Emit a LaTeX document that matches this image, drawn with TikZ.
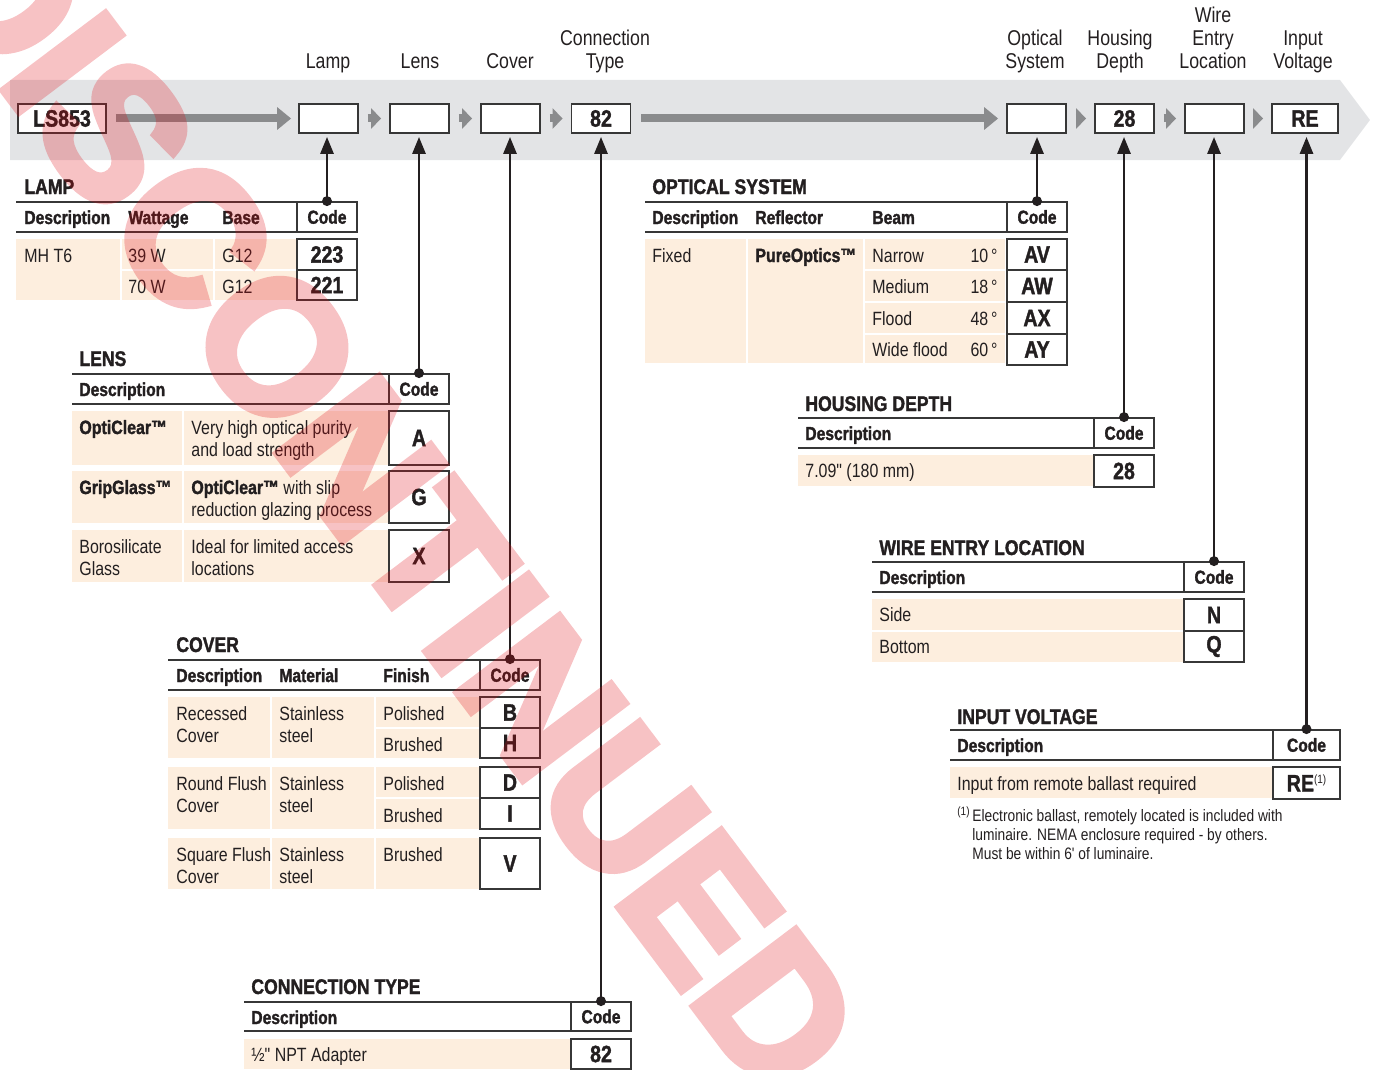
\documentclass[tikz,border=0pt]{standalone}
\usepackage{fontspec}
\setmainfont[FakeStretch=0.83, Ligatures=TeXOff, BoldFeatures={FakeBold=1.5}]{Liberation Sans}
\newfontfamily\stampfont[BoldFeatures={FakeBold=4}]{Liberation Sans}
\usetikzlibrary{arrows.meta}

\definecolor{bandgray}{RGB}{227,228,230}
\definecolor{arrowgray}{RGB}{138,139,141}
\definecolor{cellfill}{RGB}{253,238,222}
\definecolor{rulegray}{RGB}{55,55,55}
\definecolor{inkblack}{RGB}{35,31,32}
\definecolor{stampred}{RGB}{225,10,20}

\begin{document}
\begin{tikzpicture}[x=0.5pt,y=-0.5pt,
    toplbl/.style={font=\fontsize{10.7}{11.5}\selectfont, align=center, anchor=base, inner sep=0pt, text=inkblack},
    slot/.style={draw=rulegray, line width=0.9pt, fill=white, minimum width=29.5pt, minimum height=14.5pt, inner sep=0pt, font=\bfseries\fontsize{11.8}{12}\selectfont, text=inkblack},
    ttl/.style={font=\bfseries\fontsize{10.6}{12}\selectfont, anchor=base west, inner sep=0pt, text=inkblack},
    hdr/.style={font=\bfseries\fontsize{9.4}{11}\selectfont, anchor=base west, inner sep=0pt, text=inkblack},
    txt/.style={font=\fontsize{9.6}{11}\selectfont, anchor=base west, inner sep=0pt, align=left, text=inkblack},
    codehdr/.style={draw=rulegray, line width=0.9pt, fill=white, minimum width=30pt, minimum height=15pt, inner sep=0pt, font=\bfseries\fontsize{9.4}{11}\selectfont, text=inkblack},
    codebox/.style={draw=rulegray, line width=0.9pt, fill=white, minimum width=30pt, inner sep=0pt, font=\bfseries\fontsize{11.8}{12}\selectfont, text=inkblack},
    rule/.style={draw=rulegray, line width=1pt},
    cell/.style={fill=cellfill},
    feed/.style={draw=arrowgray, line width=4pt, -{Triangle[width=11pt,length=7pt]}},
    hop/.style={draw=arrowgray, line width=4pt, -{Triangle[width=10pt,length=5pt]}, shorten <=4.5pt, shorten >=4pt},
    link/.style={draw=inkblack, line width=1.4pt, -{Triangle[width=6.5pt,length=8.5pt]}, shorten >=1.5pt},
  ]
  \useasboundingbox (0,0) rectangle (1375,1070);

  % Ordering band
  \fill[bandgray] (10,80) -- (1340,80) -- (1370,120) -- (1340,160) -- (10,160) -- cycle;

  % Catalog number slots
  \node[slot, minimum width=44pt] (ls) at (62,118.5) {LS853};
  \node[slot] (lampslot) at (328.5,118.5) {};
  \node[slot] (lensslot) at (419.5,118.5) {};
  \node[slot] (coverslot) at (510.5,118.5) {};
  \node[slot] (connslot) at (601,118.5) {82};
  \node[slot] (optslot) at (1036.5,118.5) {};
  \node[slot] (houseslot) at (1124.5,118.5) {28};
  \node[slot] (wireslot) at (1214.5,118.5) {};
  \node[slot, minimum width=33pt] (voltslot) at (1305,118.5) {RE};

  \draw[feed, shorten <=4.5pt, shorten >=3.5pt] (ls.east) -- (lampslot.west);
  \draw[feed, shorten <=5pt, shorten >=4pt] (connslot.east) -- (optslot.west);
  \draw[hop] (lampslot.east) -- (lensslot.west);
  \draw[hop] (lensslot.east) -- (coverslot.west);
  \draw[hop] (coverslot.east) -- (connslot.west);
  \draw[hop] (optslot.east) -- (houseslot.west);
  \draw[hop] (houseslot.east) -- (wireslot.west);
  \draw[hop] (wireslot.east) -- (voltslot.west);

  % Slot labels (base = last line)
  \node[toplbl] (lamplbl) at (328,69) {Lamp};
  \node[toplbl] (lenslbl) at (420,69) {Lens};
  \node[toplbl] (coverlbl) at (510,69) {Cover};
  \node[toplbl] (connlbl) at (605,69) {Connection\\Type};
  \node[toplbl] (optlbl) at (1035,69) {Optical\\System};
  \node[toplbl] (houselbl) at (1120,69) {Housing\\Depth};
  \node[toplbl] (wirelbl) at (1213,69) {Wire\\Entry\\Location};
  \node[toplbl] (voltlbl) at (1303,69) {Input\\Voltage};

  % LAMP
  \node[ttl] (lampttl) at (24,194) {LAMP};
  \draw[rule] (16,202) -- (357,202);
  \draw[rule] (16,232) -- (357,232);
  \node[hdr] (lampdesc) at (24,224) {Description};
  \node[hdr] (lampwatt) at (128,224) {Wattage};
  \node[hdr] (lampbase) at (222,224) {Base};
  \node[codehdr] (lampcode) at (327,217) {Code};
  \fill[cell] (16,239) rectangle (120,300);
  \fill[cell] (122,239) rectangle (213,269);
  \fill[cell] (215,239) rectangle (296,269);
  \fill[cell] (122,271) rectangle (213,300);
  \fill[cell] (215,271) rectangle (296,300);
  \node[txt] (mht6) at (24,262) {MH T6};
  \node[txt] (w39) at (128,262) {39 W};
  \node[txt] (g12a) at (222,262) {G12};
  \node[txt] (w70) at (128,293) {70 W};
  \node[txt] (g12b) at (222,293) {G12};
  \node[codebox, minimum height=15.5pt] (c223) at (327,254.5) {223};
  \node[codebox, minimum height=15pt] (c221) at (327,285) {221};

  % LENS
  \node[ttl] (lensttl) at (79,366) {LENS};
  \draw[rule] (72,374) -- (449,374);
  \draw[rule] (72,404) -- (449,404);
  \node[hdr] (lensdesc) at (79,396) {Description};
  \node[codehdr] (lenscode) at (419,389) {Code};
  \fill[cell] (72,411) rectangle (182,465);
  \fill[cell] (184,411) rectangle (388,465);
  \fill[cell] (72,471) rectangle (182,523);
  \fill[cell] (184,471) rectangle (388,523);
  \fill[cell] (72,530) rectangle (182,582);
  \fill[cell] (184,530) rectangle (388,582);
  \node[txt, font=\bfseries\fontsize{9.6}{11}\selectfont] (opticlear) at (79,434) {OptiClear™};
  \node[txt] (opticleartxt) at (191,456) {Very high optical purity\\and load strength};
  \node[txt, font=\bfseries\fontsize{9.6}{11}\selectfont] (gripglass) at (79,494) {GripGlass™};
  \node[txt] (gripglasstxt) at (191,516) {\textbf{OptiClear™} with slip\\reduction glazing process};
  \node[txt] (boro) at (79,575) {Borosilicate\\Glass};
  \node[txt] (borotxt) at (191,575) {Ideal for limited access\\locations};
  \node[codebox, minimum height=27pt] (ca) at (419,438) {A};
  \node[codebox, minimum height=26pt] (cg) at (419,497) {G};
  \node[codebox, minimum height=26pt] (cx) at (419,556) {X};

  % COVER
  \node[ttl] (coverttl) at (176,652) {COVER};
  \draw[rule] (168,660) -- (540,660);
  \draw[rule] (168,690) -- (540,690);
  \node[hdr] (coverdesc) at (176,682) {Description};
  \node[hdr] (covermat) at (279,682) {Material};
  \node[hdr] (coverfin) at (383,682) {Finish};
  \node[codehdr] (covercode) at (510,675) {Code};
  \fill[cell] (168,697) rectangle (270,758);
  \fill[cell] (272,697) rectangle (374,758);
  \fill[cell] (376,697) rectangle (479,727);
  \fill[cell] (376,729) rectangle (479,758);
  \fill[cell] (168,767) rectangle (270,829);
  \fill[cell] (272,767) rectangle (374,829);
  \fill[cell] (376,767) rectangle (479,797);
  \fill[cell] (376,799) rectangle (479,829);
  \fill[cell] (168,838) rectangle (270,889);
  \fill[cell] (272,838) rectangle (374,889);
  \fill[cell] (376,838) rectangle (479,889);
  \node[txt] (recessed) at (176,742) {Recessed\\Cover};
  \node[txt] (steela) at (279,742) {Stainless\\steel};
  \node[txt] (polisha) at (383,720) {Polished};
  \node[txt] (brusha) at (383,751) {Brushed};
  \node[txt] (roundflush) at (176,812) {Round Flush\\Cover};
  \node[txt] (steelb) at (279,812) {Stainless\\steel};
  \node[txt] (polishb) at (383,790) {Polished};
  \node[txt] (brushb) at (383,822) {Brushed};
  \node[txt] (squareflush) at (176,883) {Square Flush\\Cover};
  \node[txt] (steelc) at (279,883) {Stainless\\steel};
  \node[txt] (brushc) at (383,861) {Brushed};
  \node[codebox, minimum height=15.5pt] (cb) at (510,712.5) {B};
  \node[codebox, minimum height=15pt] (ch) at (510,743) {H};
  \node[codebox, minimum height=15.5pt] (cd) at (510,782.5) {D};
  \node[codebox, minimum height=15.5pt] (ci) at (510,813.5) {I};
  \node[codebox, minimum height=25.5pt] (cv) at (510,863.5) {V};

  % CONNECTION TYPE
  \node[ttl] (connttl) at (251,994) {CONNECTION TYPE};
  \draw[rule] (244,1002) -- (631,1002);
  \draw[rule] (244,1031) -- (631,1031);
  \node[hdr] (conndesc) at (251,1024) {Description};
  \node[codehdr, minimum height=14.5pt] (conncode) at (601,1016.5) {Code};
  \fill[cell] (244,1039) rectangle (570,1069);
  \node[txt] (npt) at (251,1061) {½" NPT Adapter};
  \node[codebox, minimum height=15pt] (c82) at (601,1054) {82};

  % OPTICAL SYSTEM
  \node[ttl] (optttl) at (652,194) {OPTICAL SYSTEM};
  \draw[rule] (645,202) -- (1067,202);
  \draw[rule] (645,232) -- (1067,232);
  \node[hdr] (optdesc) at (652,224) {Description};
  \node[hdr] (optrefl) at (755,224) {Reflector};
  \node[hdr] (optbeam) at (872,224) {Beam};
  \node[codehdr] (optcode) at (1037,217) {Code};
  \fill[cell] (645,239) rectangle (746,363);
  \fill[cell] (748,239) rectangle (863,363);
  \foreach \ya/\yb in {239/269, 271/301, 303/333, 335/363}
    \fill[cell] (865,\ya) rectangle (1005,\yb);
  \node[txt] (fixed) at (652,262) {Fixed};
  \node[txt, font=\bfseries\fontsize{9.6}{11}\selectfont] (pureoptics) at (755,262) {PureOptics™};
  \foreach \beam/\deg/\yy [count=\i] in {Narrow/10/262, Medium/18/293, Flood/48/325, Wide flood/60/356} {
    \node[txt] (beam\i) at (872,\yy) {\beam};
    \node[txt, anchor=base east] (deg\i) at (998,\yy) {\deg\kern1.5pt°};
  }
  \node[codebox, minimum height=15.5pt] (cav) at (1037,254.5) {AV};
  \node[codebox, minimum height=16pt] (caw) at (1037,286) {AW};
  \node[codebox, minimum height=16pt] (cax) at (1037,318) {AX};
  \node[codebox, minimum height=15.5pt] (cay) at (1037,349.5) {AY};

  % HOUSING DEPTH
  \node[ttl] (housettl) at (805,411) {HOUSING DEPTH};
  \draw[rule] (798,418) -- (1154,418);
  \draw[rule] (798,448) -- (1154,448);
  \node[hdr] (housedesc) at (805,440) {Description};
  \node[codehdr] (housecode) at (1124,433) {Code};
  \fill[cell] (798,455) rectangle (1093,486);
  \node[txt] (depth) at (805,477) {7.09" (180 mm)};
  \node[codebox, minimum height=16pt] (c28) at (1124,471) {28};

  % WIRE ENTRY LOCATION
  \node[ttl] (wirettl) at (879,555) {WIRE ENTRY LOCATION};
  \draw[rule] (872,562) -- (1244,562);
  \draw[rule] (872,592) -- (1244,592);
  \node[hdr] (wiredesc) at (879,584) {Description};
  \node[codehdr] (wirecode) at (1214,577) {Code};
  \fill[cell] (872,599) rectangle (1183,630);
  \fill[cell] (872,632) rectangle (1183,662);
  \node[txt] (side) at (879,621) {Side};
  \node[txt] (bottom) at (879,653) {Bottom};
  \node[codebox, minimum height=16pt] (cn) at (1214,615) {N};
  \node[codebox, minimum height=15.5pt] (cq) at (1214,646.5) {Q};

  % INPUT VOLTAGE
  \node[ttl] (voltttl) at (957,724) {INPUT VOLTAGE};
  \draw[rule] (950,730) -- (1340,730);
  \draw[rule] (950,760) -- (1340,760);
  \node[hdr] (voltdesc) at (957,752) {Description};
  \node[codehdr, minimum width=33.5pt] (voltcode) at (1306.5,745) {Code};
  \fill[cell] (950,767) rectangle (1272,798);
  \node[txt] (remote) at (957,790) {Input from remote ballast required};
  \node[codebox, minimum width=33.5pt, minimum height=16pt] (cre) at (1306.5,783) {RE\raisebox{4pt}{\mdseries\fontsize{6}{7}\selectfont(1)}};
  \node[txt, font=\fontsize{6}{7}\selectfont] (fnmark) at (957,815) {(1)};
  \node[txt, font=\fontsize{8.3}{9.5}\selectfont] (fntext) at (972,859) {Electronic ballast, remotely located is included with\\luminaire. NEMA enclosure required - by others.\\Must be within 6' of luminaire.};

  % Connectors from tables to slots
  \foreach \tbl/\slt in {lampcode/lampslot, lenscode/lensslot, covercode/coverslot, conncode/connslot,
      optcode/optslot, housecode/houseslot, wirecode/wireslot, voltcode/voltslot} {
    \draw[link] (\tbl.north) -- (\tbl.north |- \slt.south);
    \fill[inkblack] (\tbl.north) circle (2.5pt);
  }

  % Watermark
  \begin{scope}[transparency group, opacity=0.25]
    \node[rotate=-53, text=stampred, inner sep=0pt,
      font=\stampfont\bfseries\fontsize{93}{93}\selectfont] (stamp) at (392,500) {DISCONTINUED};
  \end{scope}
\end{tikzpicture}
\end{document}
